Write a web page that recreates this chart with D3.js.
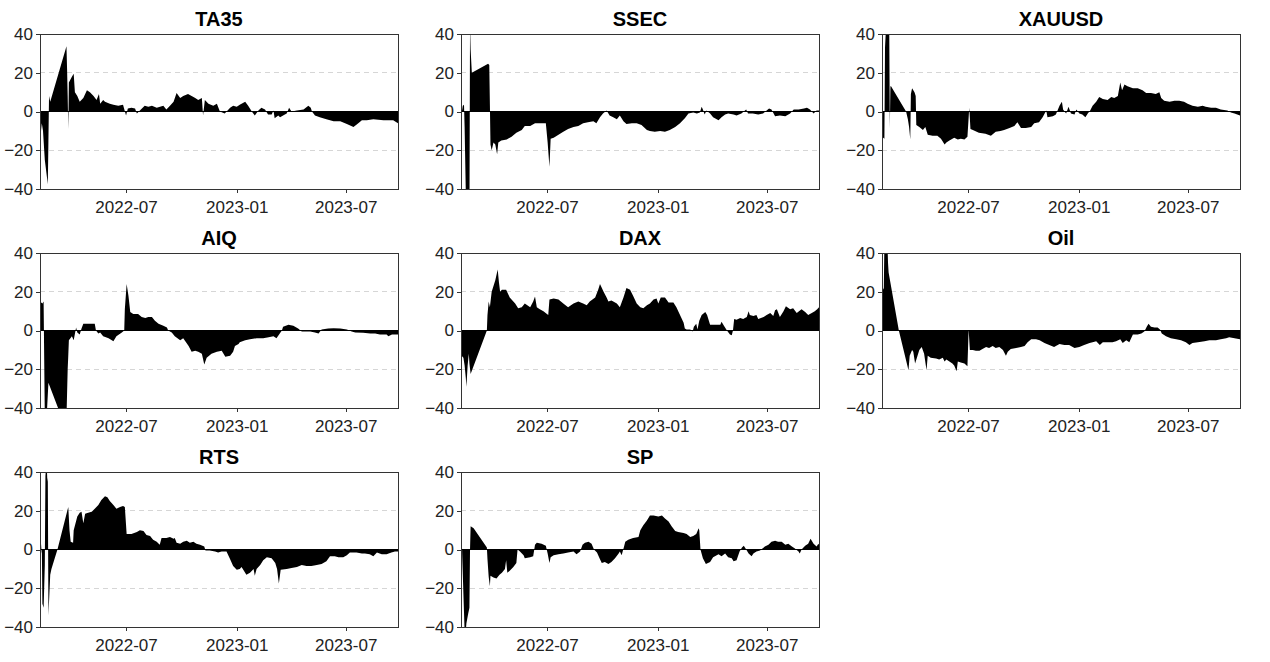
<!DOCTYPE html>
<html><head><meta charset="utf-8">
<script src="https://cdn.jsdelivr.net/npm/d3@7"></script>
<style>
body{margin:0;background:#fff;}
svg{display:block;}
text{font-family:"Liberation Sans",Arial,Helvetica,sans-serif;}
</style>
</head><body>
<svg id="chart" width="1270" height="662"></svg>
<script>
// ---------- data ----------
const panelNames = ["TA35","SSEC","XAUUSD","AIQ","DAX","Oil","RTS","SP"];
const startDate = "2022-02-08";
const endDate = "2023-09-26";
const yTicks = [-40,-20,0,20,40];
const xTickDates = ["2022-07-01","2023-01-01","2023-07-01"];
// each entry: [days since startDate, value]
const ta35 = [[0,-15],[3,-6],[5,-10],[8,-25],[13,-37.5],[14,-15],[15,8],[17,5],[44,33.7],[45,22],[46,8],[47,-9],[48,15],[53,18],[56,19.5],[58,10],[62,8],[66,5],[72,7],[78,11],[83,10],[89,8],[94,6],[98,9],[100,4],[105,6],[108,5],[116,4],[122,3.5],[130,3],[138,3.5],[143,-2],[146,1.5],[152,2],[158,1.5],[161,-1],[166,0.5],[174,3],[180,2.5],[186,3],[194,2],[205,3],[210,1],[216,3],[222,5],[227,9.5],[233,7],[238,8],[246,9],[252,8],[258,7],[263,6],[269,7],[271,-2],[274,6],[280,4],[288,3],[294,4],[299,0],[307,-1],[316,2],[321,3],[327,2.5],[332,3.5],[341,5],[346,3],[352,0],[357,-2],[363,0.5],[368,2],[374,1],[379,-1.5],[385,-1.5],[388,0.5],[390,-3.5],[396,-2],[399,-3],[404,-2],[410,-1],[414,2],[418,0],[427,0.5],[438,1],[446,3],[450,2],[452,0],[457,-2],[465,-3],[476,-4],[488,-5],[499,-5],[510,-6.5],[521,-8],[529,-6],[535,-4.5],[543,-4.5],[554,-4],[571,-4.5],[587,-4.5],[595,-6]];
const ssec = [[0,-3],[3,3],[5,3.5],[6,-8],[7,-25],[9,-60],[14,-60],[15,45],[16,32],[18,20],[45,24.7],[47,24],[48,4],[49,-17],[51,-20],[54,-16],[57,-17],[60,-22],[62,-16],[67,-15],[76,-14.5],[84,-13],[92,-11],[101,-9.5],[106,-7.5],[115,-7.5],[123,-6],[137,-6],[141,-6],[144,-16],[147,-28.5],[149,-14],[154,-13.5],[162,-12],[170,-10.5],[178,-9],[187,-8],[195,-7.5],[203,-6],[211,-5.5],[220,-5],[225,-6],[231,-3],[236,-1],[242,0.5],[247,-2],[253,-3],[259,-4],[264,-2],[270,-5],[275,-6.5],[284,-6],[292,-6],[300,-7],[309,-9.5],[314,-10],[322,-10.5],[331,-10],[339,-10.5],[347,-9.5],[356,-8],[364,-6],[372,-3.5],[378,-1],[386,-0.5],[392,-1],[397,-0.5],[400,2.5],[402,1],[405,-1.5],[408,0.5],[414,-1],[419,-3],[428,-4.5],[433,-3],[439,-1.5],[444,-1],[453,-1.5],[458,-2],[466,-1],[474,1],[477,-1],[485,-1],[494,-1.5],[502,-1],[512,1.5],[516,1],[522,-2.5],[530,-2],[539,-2.5],[547,-1],[553,1],[561,1],[570,1.5],[575,2],[580,1],[586,-1],[591,0.5],[595,0.5]];
const xauusd = [[0,-13],[4,-14],[5,33],[7,45],[12,45],[13,-9],[14,13],[15,13],[40,0],[43,-4],[45,-8],[47,-14.5],[48,9],[50,12],[54,10],[56,8],[57,-7],[62,-8],[68,-9.5],[72,-8],[76,-12],[84,-12.5],[92,-12.5],[98,-14],[104,-17],[107,-16],[112,-15],[120,-13.5],[126,-14.5],[131,-14],[137,-14.5],[142,-13],[145,2],[147,-9],[151,-9.5],[161,-11],[172,-11.5],[181,-12.5],[189,-10.5],[197,-10],[203,-9.5],[212,-8.5],[220,-7.5],[225,-5.5],[231,-8.5],[239,-8.5],[248,-8],[253,-6],[261,-5.5],[267,-3],[273,0.5],[275,-3],[284,-2.5],[289,-1.5],[295,3],[299,5],[301,1],[306,-1],[310,2.5],[314,-1],[320,-1.5],[323,1],[328,-1],[333,-1.5],[338,-3],[342,-1],[346,0.5],[350,3],[356,5],[361,7.5],[367,6.5],[375,6],[381,7.5],[386,7],[392,8],[396,15],[399,11],[403,14],[408,13],[417,12],[425,12],[433,11],[439,9.5],[447,9.5],[455,9],[461,10],[464,7],[469,5.5],[478,5],[486,5.5],[494,5.5],[502,5],[508,4],[516,3],[525,2.5],[533,3],[538,2.5],[547,2],[555,2],[563,1],[574,0.5],[580,-0.5],[586,-1],[595,-2]];
const aiq = [[0,15],[4,14],[6,15],[7,-15],[8,-45],[11,-45],[14,-27],[30,-40],[31,-45],[44,-45],[46,-20],[47,-13],[48,-5],[53,-3],[56,-5],[60,1.5],[62,-1],[66,-2],[69,1],[72,3.5],[80,3.5],[91,3.5],[93,0],[97,-1.5],[100,-1],[105,-3],[114,-4],[122,-5.5],[127,-3],[136,-1],[140,0],[141,11],[144,24],[147,18],[150,9.5],[155,8.5],[163,8.5],[169,7],[175,6.5],[180,7],[186,7],[191,5],[197,3.5],[205,2.5],[211,1.5],[213,0],[219,-1],[224,-3],[233,-5],[238,-4],[247,-8],[252,-11],[258,-10.5],[263,-11],[269,-12],[273,-17.5],[277,-14],[285,-12],[294,-11],[302,-10.5],[308,-13.5],[316,-13],[321,-11],[324,-8],[330,-7],[332,-6],[341,-5],[349,-4.5],[360,-4],[371,-4],[380,-3.5],[388,-3],[393,-4],[402,0],[404,2],[413,3],[421,2.5],[429,1],[435,-0.5],[449,-0.5],[457,-1],[463,-1.5],[468,0.5],[479,1],[488,1.2],[499,1],[510,0.5],[518,-0.5],[524,-1],[537,-1.2],[549,-1.5],[557,-1.5],[565,-2],[576,-2],[579,-3],[585,-2],[595,-2]];
const dax = [[0,0.5],[1,-13],[4,-14],[6,-18],[8,-24.5],[9,-29],[11,-18],[13,-12],[14,-17],[16,-22.5],[43,0],[44,8],[46,15],[48,12],[51,20],[57,26],[61,31.5],[63,25],[65,20],[68,21],[75,21],[81,17],[90,14],[95,11.5],[101,12],[106,14],[115,12],[120,15],[123,17.5],[126,12],[131,11],[137,10],[145,8],[147,16],[154,16.5],[162,16],[170,14],[178,12],[187,14],[195,15],[203,14],[209,13],[214,15],[223,17],[228,21],[231,24],[237,20],[242,17],[245,15],[250,15.5],[259,14],[264,12],[270,17],[275,22],[281,21],[286,18],[292,14],[298,12],[303,11.5],[309,13],[314,14],[320,16],[325,16.5],[328,14],[332,17],[339,17],[345,14.5],[353,14.5],[358,12],[364,8],[370,4],[372,1],[375,0.5],[381,0.5],[385,-0.5],[387,2],[391,3.5],[393,0.5],[396,5],[400,8],[406,9.5],[409,8],[414,3],[422,3],[431,3],[433,4.5],[437,2.5],[442,0],[447,-2],[450,-2.5],[452,0],[454,6],[458,5.5],[464,6.5],[469,6],[475,7],[478,10],[480,8],[486,7.5],[491,8],[494,6],[503,7],[508,8],[514,9],[519,7.5],[522,10.5],[525,11],[530,7],[536,10],[540,12.5],[547,11],[552,11.5],[558,9],[566,11],[572,9.5],[577,8],[583,9],[588,10],[592,11],[595,12]];
const oil = [[0,20],[3,22],[4,45],[9,45],[10,35],[11,30],[28,0],[44,-20.5],[46,-13],[50,-10],[52,-11],[55,-17],[58,-14],[62,-10],[66,-8.5],[70,-12],[74,-20.5],[76,-13],[81,-14],[90,-14.5],[95,-15],[101,-14],[104,-16],[107,-15],[112,-16],[117,-17],[120,-18],[124,-21],[126,-16],[131,-16.5],[137,-17],[142,-18.5],[144,0.5],[146,-10],[151,-10],[156,-10.5],[162,-10.5],[167,-9.5],[173,-8.5],[178,-9],[184,-8],[189,-9],[195,-8.5],[201,-10],[206,-13],[209,-11],[214,-9.5],[223,-9],[231,-8.5],[237,-8],[242,-6],[248,-4.5],[256,-4.5],[262,-5],[270,-6.5],[278,-7.5],[286,-8.5],[295,-7],[303,-7.5],[311,-7.5],[320,-9],[328,-8.5],[336,-7.5],[345,-6.5],[350,-6],[356,-5.5],[362,-7.5],[367,-6],[375,-6],[383,-6],[389,-5.5],[396,-4.5],[400,-6.5],[406,-5],[411,-6],[417,-2],[425,-2],[431,-1.5],[436,-0.5],[440,2],[443,3.5],[447,2],[453,1.5],[458,1.5],[462,0.5],[465,-1.5],[472,-3],[480,-4],[489,-4.5],[497,-5],[505,-6],[511,-7.5],[516,-6.5],[525,-6],[536,-5.5],[544,-5],[555,-5],[563,-4.5],[572,-4],[577,-3.5],[586,-4],[595,-4.5]];
const rts = [[0,4],[2,-2],[3,3],[4,-28],[6,-30],[8,-8],[9,38],[11,45],[12,37],[13,35],[14,-34],[17,-13],[19,-10],[25,-4],[29,0],[47,22],[49,10],[51,4],[55,3.5],[56,10],[62,17],[66,19],[69,19.5],[72,13.5],[75,18.5],[80,19],[86,19.5],[91,21],[97,23],[102,25.5],[108,27.5],[112,27],[116,25],[122,23],[127,21],[133,22],[138,22.5],[141,22],[144,8],[152,8],[161,9],[166,10],[172,9.5],[177,7.5],[183,7],[188,5],[194,4],[199,2.5],[202,6],[210,6],[216,6.5],[222,5.5],[224,6],[227,3.5],[233,3],[238,4],[244,4.5],[249,3.5],[255,4],[260,3],[266,2.5],[273,1.5],[275,-0.5],[282,-0.5],[291,-1],[296,-1.5],[302,-1],[310,-1],[316,-5],[321,-8.5],[327,-10.5],[332,-10],[335,-9],[343,-13],[349,-12],[355,-10],[357,-13.5],[360,-10],[366,-8],[371,-5.5],[377,-4],[385,-4.5],[391,-7],[394,-10],[397,-17.5],[400,-10.5],[410,-10],[418,-9.5],[427,-9],[435,-8],[443,-8.5],[451,-8.5],[460,-8],[468,-7.5],[476,-6],[482,-3.5],[490,-3.5],[496,-4],[504,-4],[510,-3],[515,-1.5],[526,-1.5],[535,-2],[540,-2],[548,-2.5],[554,-3.5],[560,-1.5],[568,-2.5],[576,-2.5],[584,-1.5],[590,-1],[595,-1]];
const sp = [[0,10],[1,10],[2,-3],[4,-23],[6,-42],[8,-42],[9,-38],[12,-33],[14,-30],[15,0],[16,12],[21,11],[43,1],[44,-5],[46,-14],[48,-19],[49,-13.5],[54,-14.5],[59,-15],[64,-13],[68,-12],[73,-10],[75,-5.5],[77,-12],[81,-11],[87,-9],[92,-7],[94,0],[98,-1],[104,-3],[106,-4.5],[115,-4],[120,-3.5],[123,2.5],[126,3.5],[134,3],[141,2],[144,-2],[147,-7],[149,-4],[154,-3],[162,-2.5],[170,-2],[178,-1.5],[187,-1],[192,-2.5],[198,-1],[202,2.5],[206,3.5],[212,4],[217,3],[221,0],[226,-1.5],[231,-5],[234,-7],[239,-6.5],[245,-7.5],[250,-6.5],[256,-4.5],[262,-2],[264,-1],[267,-3],[271,1.5],[273,4],[278,5],[286,6],[295,6.5],[298,10],[303,12.5],[309,15],[314,17.5],[320,17.5],[328,17],[334,17.5],[339,16],[345,14.5],[350,12],[356,9.5],[361,9],[370,8.5],[375,8],[381,6.5],[386,7],[391,8],[395,11],[396,10],[398,0],[402,-4.5],[407,-7.5],[414,-6.5],[419,-4],[428,-2.5],[433,-3.5],[439,-2],[444,-4],[450,-4.5],[453,-6],[458,-5.5],[463,-1],[467,1],[470,2],[474,0],[478,-2],[483,-3.5],[486,-2],[491,-1],[497,-0.5],[505,1.5],[511,2.5],[516,4],[522,4.5],[527,4],[533,4],[539,2.5],[544,3],[550,1.5],[555,0.5],[561,-1],[563,-2],[566,0],[572,2],[577,3],[581,5.5],[586,3],[591,1.5],[594,3],[595,2.5]];
const seriesList = [ta35, ssec, xauusd, aiq, dax, oil, rts, sp];

// ---------- layout ----------
const colLeft = [40, 461, 882];
const rowTop = [34, 253, 472];
const pw = 358, ph = 155;

const parse = d3.timeParse("%Y-%m-%d");
const t0 = parse(startDate), t1 = parse(endDate);
const x = d3.scaleTime().domain([t0, t1]).range([0, pw]);
const y = d3.scaleLinear().domain([-40, 40]).range([ph, 0]);

const svg = d3.select("#chart");
svg.append("defs").append("clipPath").attr("id","clipP")
  .append("rect").attr("x",0).attr("y",0).attr("width",pw).attr("height",ph);

const area = d3.area()
  .x(d => x(d3.timeDay.offset(t0, d[0])))
  .y0(y(0))
  .y1(d => y(d[1]));

panelNames.forEach((name, i) => {
  const c = i % 3, r = Math.floor(i / 3);
  const g = svg.append("g").attr("transform", `translate(${colLeft[c]},${rowTop[r]})`);

  g.selectAll(".grid").data([-20, 20]).enter().append("line")
    .attr("x1", 0).attr("x2", pw)
    .attr("y1", d => y(d)).attr("y2", d => y(d))
    .attr("stroke", "#d6d6d6").attr("stroke-width", 1)
    .attr("stroke-dasharray", "5,4").attr("shape-rendering","crispEdges");

  g.append("path").datum(seriesList[i])
    .attr("d", area)
    .attr("fill", "#000")
    .attr("clip-path", "url(#clipP)");

  g.append("line").attr("x1",0).attr("x2",pw).attr("y1",y(0)).attr("y2",y(0))
    .attr("stroke","#000").attr("stroke-width",1).attr("shape-rendering","crispEdges");

  g.append("rect").attr("x",0).attr("y",0).attr("width",pw).attr("height",ph)
    .attr("fill","none").attr("stroke","#333").attr("stroke-width",1)
    .attr("shape-rendering","crispEdges");

  const ya = g.append("g").call(d3.axisLeft(y).tickValues(yTicks).tickSize(4).tickPadding(3).tickFormat(d3.format("d")));
  const xa = g.append("g").attr("transform", `translate(0,${ph})`)
    .call(d3.axisBottom(x).tickValues(xTickDates.map(parse)).tickSize(4).tickPadding(8).tickFormat(d3.timeFormat("%Y-%m")));
  [ya, xa].forEach(a => {
    a.select(".domain").remove();
    a.selectAll(".tick line").attr("stroke","#333").attr("shape-rendering","crispEdges");
    a.selectAll(".tick text").attr("fill","#222").style("font-size","17px")
      .style("font-family","'Liberation Sans',Arial,sans-serif");
  });

  g.append("text").attr("x", pw/2).attr("y", -8).attr("text-anchor","middle")
    .style("font-size","20px").style("font-weight","bold").attr("fill","#000")
    .text(name);
});
</script>
</body></html>
